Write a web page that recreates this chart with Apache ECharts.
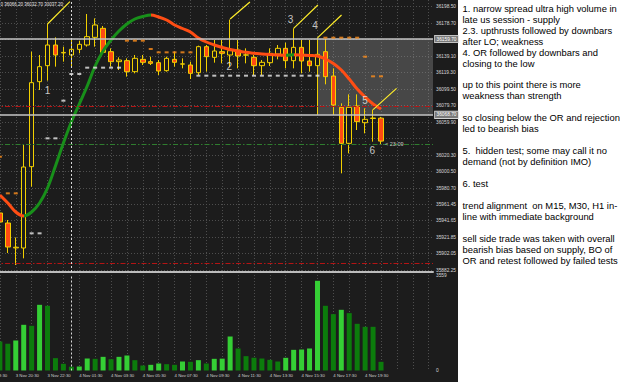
<!DOCTYPE html>
<html>
<head>
<meta charset="utf-8">
<script src="https://cdn.jsdelivr.net/npm/echarts@6.0.0/dist/echarts.min.js"></script>
<style>
html,body{margin:0;padding:0;background:#ffffff;}
#chart{width:625px;height:382px;}
</style>
</head>
<body>
<div id="chart"></div>
<script>
// ---------------- data ----------------
// 30-minute bars, numbered 1..49 from the left edge
const barOpen  = [35950.9,35938.9,35909.0,35908.9,36006.5,36108.5,36127.7,36152.5,36143.0,36140.5,
                  36147.3,36152.5,36161.7,36172.5,36144.5,36132.5,36133.7,36120.5,36135.3,36132.5,
                  36131.3,36121.7,36135.3,36129.5,36128.5,36119.3,36150.5,36137.7,36144.5,36140.5,
                  36146.5,36140.3,36137.7,36127.7,36131.3,36141.7,36148.5,36133.7,36149.7,36133.3,
                  36127.7,36144.5,36115.3,36077.7,36034.5,36079.3,36059.3,36064.3,36064.70];
const barClose = [35940.1,35910.1,35909.8,36006.1,36107.3,36126.5,36152.5,36140.5,36143.6,36147.3,
                  36153.3,36162.5,36176.5,36143.7,36132.5,36134.5,36120.5,36136.5,36131.7,36130.5,
                  36121.3,36136.5,36131.7,36129.9,36118.5,36150.5,36138.5,36145.3,36142.5,36145.7,
                  36139.3,36140.7,36127.7,36131.7,36142.5,36148.5,36133.7,36149.7,36133.3,36127.7,
                  36141.3,36114.5,36080.5,36034.5,36077.7,36060.5,36063.3,36064.9,36037.20];
const barLow   = [35936.0,35902.9,35888.5,35896.5,35982.5,36098.5,36109.7,36126.5,36132.5,36126.5,
                  36142.5,36150.5,36150.5,36142.5,36126.5,36122.5,36114.5,36118.5,36128.5,36128.5,
                  36116.5,36120.5,36126.5,36124.5,36111.7,36116.5,36120.5,36131.3,36130.5,36126.5,
                  36124.5,36130.5,36116.5,36116.5,36127.3,36135.3,36124.5,36124.5,36118.5,36120.5,
                  36068.7,36105.3,36068.5,35998.5,36022.5,36050.5,36046.5,36036.5,36032.70];
const barHigh  = [35953.0,35942.5,35921.5,36032.5,36144.5,36140.5,36177.7,36161.7,36150.5,36159.3,
                  36157.7,36189.7,36184.5,36175.3,36148.5,36137.7,36136.5,36140.5,36140.5,36138.5,
                  36134.5,36138.5,36144.5,36136.5,36132.5,36151.7,36152.5,36158.5,36158.5,36183.0,
                  36158.5,36148.5,36140.5,36134.5,36148.5,36152.5,36155.3,36172.5,36158.5,36158.5,
                  36161.0,36160.0,36124.5,36082.5,36093.3,36093.3,36076.5,36075.0,36066.20];
const barVolume = [1151,1058,1191,1813,1773,2606,2567,490,265,150,
                   159,476,463,542,450,542,595,410,198,225,
                   278,251,225,357,344,410,278,463,470,1349,
                   873,569,503,476,423,357,503,820,833,873,
                   3559,2567,2236,2408,2276,1852,1733,1733,344];
const maValues = [35972.5,35962.9,35952.1,35947.3,35952.1,35962.9,35980.9,36007.3,36034.9,36060.1,
                  36081.7,36103.3,36127.3,36145.3,36158.5,36169.3,36177.7,36183.7,36186.7,36188.5,
                  36186.1,36182.5,36176.5,36172.3,36168.1,36160.9,36156.1,36152.5,36149.5,36147.1,
                  36145.3,36143.7,36142.7,36141.7,36141.0,36140.5,36140.3,36140.7,36140.4,36139.9,
                  36139.3,36135.7,36130.3,36122.5,36111.7,36099.7,36090.1,36081.7,36075.7];

// stop-level dashes
const whiteDashBars   = [5,6,7,8,9,10,11,12,13,14,15,16,26,27,28,29,30,31,32,33,34,35,36,37,38,39,40,41];
const whiteDashPrices = [35926.5,35926.5,36040.5,36040.5,36085.7,36117.7,36117.7,36125.3,36125.3,36125.3,36125.3,36125.3,
                         36115.7,36115.7,36115.7,36115.7,36115.7,36115.7,36115.7,36115.7,36115.7,36115.7,36115.7,36115.7,36115.7,36115.7,36115.7,36115.7];
const orangeDashBars   = [1,2,3,17,18,19,20,21,22,23,24,25,42,43,44,45,46,47,48,49];
const orangeDashPrices = [36018.5,35974.5,35974.5,36157.7,36157.7,36157.7,36147.7,36143.7,36143.7,36143.7,36143.7,36143.7,
                          36161.3,36161.3,36161.3,36161.3,36161.3,36138.5,36114.9,36114.9];

// axis ticks / labels
const timeTickBars   = [-1,3,7,11,15,19,23,27,31,35,39,43,47];
const timeTickLabels = ['3 Nov 18:30','3 Nov 20:30','3 Nov 22:30','4 Nov 01:30','4 Nov 03:30','4 Nov 05:30',
                        '4 Nov 07:30','4 Nov 09:30','4 Nov 11:30','4 Nov 13:30','4 Nov 15:30','4 Nov 17:30','4 Nov 19:30'];
const priceGridValues  = [36198.50,36178.70,36158.90,36139.10,36119.30,36099.50,36079.70,36059.90,36040.10,
                          36020.30,36000.50,35980.70,35961.45,35941.65,35921.85,35902.05,35882.25];
const priceLabelValues = [36198.50,36178.70,36139.10,36119.30,36099.50,36079.70,36059.90,
                          36020.30,36000.50,35980.70,35961.45,35941.65,35921.85,35902.05,35882.25];

// levels and annotations
const orHigh = 36159.70, orLow = 36068.70, orStartBar = 41;
const redLevels = [36079.5, 35890.5];
const greenLevel = 36033.7;
const daySeparatorBar = 10;
const annoLineStart = [[7,36177.7],[30,36183.7],[38,36172.5],[41,36161.0],[48,36075.0]];
const annoLineEnd   = [[9.82,36204.5],[32.49,36204.1],[41.05,36200.5],[44.03,36188.5],[50.96,36100.5]];
const annoTexts  = ['1','2','3','4','5','6'];
const annoBars   = [7.0,29.9,37.6,40.7,47.0,47.9];
const annoPrices = [36098.5,36126.5,36183.7,36175.7,36085.7,36025.7];
const timerText = '< 23:09';

const notes = [
 '1. narrow spread ultra high volume in','late us session - supply',
 '2.3. upthrusts followed by downbars','after LO; weakness',
 '4. OR followed by downbars and','closing to the low','',
 'up to this point there is more','weakness than strength','',
 'so closing below the OR and rejection','led to bearish bias','',
 '5.  hidden test; some may call it no','demand (not by definition IMO)','',
 '6. test','',
 'trend alignment  on M15, M30, H1 in-','line with immediate background','',
 'sell side trade was taken with overall','bearish bias based on supply, BO of','OR and retest followed by failed tests'
];

// ---------------- layout / style ----------------
const BG = '#1c1c1c';
const FONT = 'Liberation Sans, Arial, sans-serif';
const BAR_PX = 7.94;
const GRID_LEFT = -16, GRID_RIGHT_EDGE = 433;
const X_MIN = -1;
const X_MAX = X_MIN + (GRID_RIGHT_EDGE - GRID_LEFT) / BAR_PX;
const Y_MIN = 35880.1, Y_MAX = 36206.5;
const VOL_AXIS_MAX = 3789;
const CANDLE_LINE = '#f2d000', BEAR_FILL = '#ff4a12';
const UP_MA = '#18901a', DOWN_MA = '#ff4d14';
const GRID_DOT = {color: '#4e4e4e', type: [1, 2], width: 1};
const gridLineBars = [];
for (let b = -1; b <= 57; b += 2) gridLineBars.push(b);

const bars = barOpen.map((_, i) => i + 1);
const candleData = bars.map((b, i) => [b, barOpen[i], barClose[i], barLow[i], barHigh[i]]);
const maData = bars.map((b, i) => [b, maValues[i]]);
const volData = bars.map((b, i) => ({
  value: [b, barVolume[i]],
  itemStyle: {color: (i > 0 && barVolume[i] > barVolume[i - 1]) ? '#35cf35' : '#0c7c0c'}
}));

// MA colour pieces: green while rising, orange-red while falling
const maPieces = [];
let runStart = X_MIN - 10, dir = maValues[1] > maValues[0];
for (let i = 1; i < maValues.length; i++) {
  const d = maValues[i] > maValues[i - 1];
  if (d !== dir) {
    const turnBar = i; // bar number of element i-1
    maPieces.push({gte: runStart, lt: turnBar, color: dir ? UP_MA : DOWN_MA});
    runStart = turnBar; dir = d;
  }
}
maPieces.push({gte: runStart, lte: X_MAX + 10, color: dir ? UP_MA : DOWN_MA});

const lastIdx = bars.length - 1;
const tagLabel = (val, bg, fg, border) => ({
  show: true, position: 'end', distance: 2,
  formatter: val.toFixed(2), fontSize: 4.8, fontFamily: FONT,
  color: fg, backgroundColor: bg, borderColor: border, borderWidth: 0.8, padding: [1, 1.5, 0.5, 1.5]
});
const dashDot = [5, 2, 1.5, 2];

const noteGraphics = notes.map((t, i) => ({
  type: 'text', x: 462.5, y: 8.3 + i * 10.95, silent: true,
  style: {text: t, fill: '#000000', fontSize: 9.4, fontFamily: FONT, verticalAlign: 'middle'}
}));
// the open value is cut by the left edge of the window: only its last digit shows
const ohlcText = [barOpen[lastIdx].toFixed(2).slice(-1), barHigh[lastIdx].toFixed(2),
                  barLow[lastIdx].toFixed(2), barClose[lastIdx].toFixed(2)].join(' ');

const xAxisBase = (gridIndex) => ({
  type: 'value', gridIndex, min: X_MIN, max: X_MAX,
  axisTick: {show: false, customValues: gridLineBars},
  splitLine: {show: true, lineStyle: GRID_DOT}
});

const option = {
  backgroundColor: BG,
  animation: false,
  grid: [
    {left: GRID_LEFT, right: 625 - GRID_RIGHT_EDGE, top: 0, height: 272, containLabel: false, outerBoundsMode: 'none'},
    {left: GRID_LEFT, right: 625 - GRID_RIGHT_EDGE, top: 275, height: 95.5, containLabel: false, outerBoundsMode: 'none'}
  ],
  xAxis: [
    Object.assign(xAxisBase(0), {
      axisLine: {show: true, onZero: false, lineStyle: {color: '#bdbdbd', width: 2}},
      axisLabel: {show: false}
    }),
    Object.assign(xAxisBase(1), {
      axisLine: {show: false, onZero: false},
      axisLabel: {
        show: true, customValues: timeTickBars, showMinLabel: true, showMaxLabel: true,
        formatter: (v) => timeTickLabels[timeTickBars.indexOf(v)] || '',
        align: 'left', margin: 3, fontSize: 4.3, color: '#d0d0d0', fontFamily: FONT
      }
    })
  ],
  yAxis: [
    {
      type: 'value', gridIndex: 0, position: 'right', min: Y_MIN, max: Y_MAX, scale: true,
      axisLine: {show: true, lineStyle: {color: '#a0a0a0', width: 1}},
      axisTick: {show: false, customValues: priceGridValues},
      axisLabel: {
        show: true, customValues: priceLabelValues, showMinLabel: true, showMaxLabel: true,
        formatter: (v) => v.toFixed(2), margin: 3, fontSize: 4.8, color: '#d8d8d8', fontFamily: FONT
      },
      splitLine: {show: true, lineStyle: GRID_DOT}
    },
    {
      type: 'value', gridIndex: 1, position: 'right', min: 0, max: VOL_AXIS_MAX,
      axisLine: {show: true, lineStyle: {color: '#a0a0a0', width: 1}},
      axisTick: {show: false},
      axisLabel: {
        show: true, customValues: [0, VOL_AXIS_MAX], showMinLabel: true, showMaxLabel: true,
        formatter: (v) => v === 0 ? '0' : String(Math.max.apply(null, barVolume)),
        margin: 3, fontSize: 4.8, color: '#d8d8d8', fontFamily: FONT
      },
      splitLine: {show: false}
    }
  ],
  visualMap: [{type: 'piecewise', show: false, seriesIndex: 1, dimension: 0, pieces: maPieces}],
  series: [
    {
      type: 'candlestick', name: 'price', xAxisIndex: 0, yAxisIndex: 0,
      data: candleData, encode: {x: 0, y: [1, 2, 3, 4]},
      barWidth: 5, z: 2,
      itemStyle: {color: BG, color0: BEAR_FILL, borderColor: CANDLE_LINE, borderColor0: CANDLE_LINE, borderWidth: 1},
      markArea: {
        silent: true,
        itemStyle: {color: 'rgba(150,150,150,0.36)'},
        data: [[{coord: [orStartBar, orHigh]}, {coord: [X_MAX, orLow]}]]
      },
      markLine: {
        silent: true, symbol: 'none', animation: false,
        label: {show: false},
        data: [
          {yAxis: orHigh, lineStyle: {color: '#c4c4c4', width: 1.6, type: 'solid'}, label: tagLabel(orHigh, '#7a7a7a', '#ffffff', '#dddddd')},
          {yAxis: orLow, lineStyle: {color: '#c4c4c4', width: 1.6, type: 'solid'}, label: tagLabel(orLow, '#7a7a7a', '#ffffff', '#dddddd')},
          {yAxis: redLevels[0], lineStyle: {color: '#b41414', width: 1, type: dashDot}},
          {yAxis: redLevels[1], lineStyle: {color: '#b41414', width: 1, type: dashDot}},
          {yAxis: greenLevel, lineStyle: {color: '#2f7d2f', width: 1.2, type: dashDot}},
          {yAxis: barClose[lastIdx], lineStyle: {opacity: 0}, label: tagLabel(barClose[lastIdx], '#ffffff', '#000000', '#bbbbbb')},
          {xAxis: daySeparatorBar, lineStyle: {color: '#d8d8d8', width: 1, type: [2, 2]}}
        ].concat(annoLineStart.map((s, i) => [
          {coord: s, lineStyle: {color: '#ffee2a', width: 1.2, type: 'solid'}},
          {coord: annoLineEnd[i]}
        ]))
      },
      markPoint: {
        silent: true, symbol: 'circle', symbolSize: 0,
        data: [{
          coord: [bars[lastIdx], greenLevel],
          label: {show: true, position: 'right', distance: 4, formatter: timerText, fontSize: 5.5, color: '#c8c8c8', fontFamily: FONT}
        }]
      }
    },
    {
      type: 'line', name: 'ma', xAxisIndex: 0, yAxisIndex: 0, data: maData,
      showSymbol: false, symbol: 'none', smooth: 0.35, z: 4,
      lineStyle: {width: 3}
    },
    {
      type: 'scatter', name: 'support', xAxisIndex: 0, yAxisIndex: 0, z: 5,
      data: whiteDashBars.map((b, i) => [b, whiteDashPrices[i]]),
      symbol: 'rect', symbolSize: [4, 2], itemStyle: {color: '#e8e8e8'}
    },
    {
      type: 'scatter', name: 'resistance', xAxisIndex: 0, yAxisIndex: 0, z: 5,
      data: orangeDashBars.map((b, i) => [b, orangeDashPrices[i]]),
      symbol: 'rect', symbolSize: [4, 2], itemStyle: {color: '#ff8f1c'}
    },
    {
      type: 'scatter', name: 'notes', xAxisIndex: 0, yAxisIndex: 0, z: 6,
      data: annoBars.map((b, i) => [b, annoPrices[i], annoTexts[i]]),
      symbolSize: 0,
      label: {show: true, position: 'inside', formatter: (p) => p.data[2], fontSize: 10, color: '#f0f0f0', fontFamily: FONT}
    },
    {
      type: 'bar', name: 'volume', xAxisIndex: 1, yAxisIndex: 1, data: volData, barWidth: 5,
      markLine: {
        silent: true, symbol: 'none', label: {show: false},
        data: [{xAxis: daySeparatorBar, lineStyle: {color: '#d8d8d8', width: 1, type: [2, 2]}}]
      }
    }
  ],
  graphic: [
    {type: 'rect', silent: true, shape: {x: 458, y: 0, width: 167, height: 382}, style: {fill: '#ffffff'}},
    {type: 'text', silent: true, x: 0.5, y: 4.5,
     style: {text: ohlcText, fill: '#e8e8e8', fontSize: 4.5, fontFamily: FONT, verticalAlign: 'middle'}}
  ].concat(noteGraphics)
};

const chart = echarts.init(document.getElementById('chart'), null, {renderer: 'svg', width: 625, height: 382});
chart.setOption(option);
</script>
</body>
</html>
